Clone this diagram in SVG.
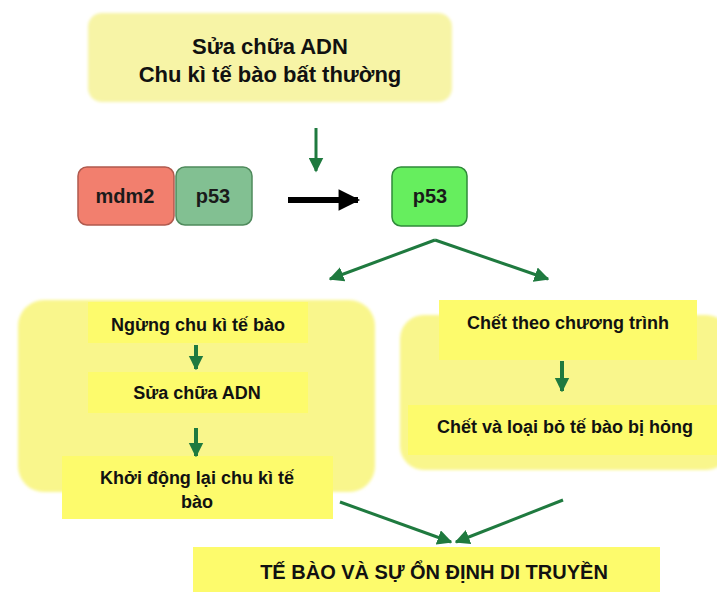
<svg xmlns="http://www.w3.org/2000/svg" width="717" height="592" viewBox="0 0 717 592">
  <defs>
    <filter id="soft" x="-5%" y="-5%" width="110%" height="110%">
      <feGaussianBlur stdDeviation="1.6"/>
    </filter>
    <marker id="headGreen" viewBox="0 0 10 10" refX="9" refY="5" markerWidth="5" markerHeight="5" orient="auto" markerUnits="strokeWidth">
      <path d="M0,0 L10,5 L0,10 Z" fill="#1f7a3f"/>
    </marker>
    <marker id="headWide" viewBox="0 0 10 10" refX="9" refY="5" markerWidth="3.6" markerHeight="4.4" orient="auto" markerUnits="strokeWidth">
      <path d="M0,0 L10,5 L0,10 Z" fill="#1f7a3f"/>
    </marker>
    <marker id="headBlack" viewBox="0 0 10 10" refX="9" refY="5" markerWidth="4" markerHeight="3.6" orient="auto" markerUnits="strokeWidth">
      <path d="M0,0 L10,5 L0,10 Z" fill="#000"/>
    </marker>
  </defs>
  <style>
    .pale { fill: #f9f68c; filter: url(#soft); }
    .paleTop { fill: #f7f4a6; filter: url(#soft); }
    .band { fill: #fdfb6c; }
    .txt { font-family: "Liberation Sans", Arial, sans-serif; font-weight: bold; fill: #111; text-anchor: middle; }
    .prot { font-family: "Liberation Sans", Arial, sans-serif; font-weight: bold; fill: #1a1a1a; text-anchor: middle; font-size: 20px; }
    .g { stroke: #1f7a3f; stroke-width: 3; fill: none; marker-end: url(#headGreen); }
    .gthick { stroke: #1f7a3f; stroke-width: 4; fill: none; marker-end: url(#headWide); }
  </style>

  <rect width="717" height="592" fill="#ffffff"/>

  <!-- trigger box -->
  <g id="trigger">
    <rect class="paleTop" x="88" y="13" width="364" height="89" rx="14"/>
    <text class="txt" x="270" y="54" font-size="22">Sửa chữa ADN</text>
    <text class="txt" x="270" y="82" font-size="22">Chu kì tế bào bất thường</text>
  </g>

  <!-- mdm2-p53 complex -->
  <g id="complex">
    <rect x="78" y="167" width="96" height="58" rx="9" fill="#f27f6e" stroke="#b05a4e" stroke-width="1.5"/>
    <rect x="176" y="167" width="76" height="58" rx="9" fill="#82c092" stroke="#4f8a5c" stroke-width="1.5"/>
    <text class="prot" x="125" y="203">mdm2</text>
    <text class="prot" x="213" y="203">p53</text>
  </g>

  <!-- free p53 -->
  <g id="p53free">
    <rect x="392" y="167" width="75" height="59" rx="9" fill="#66ee5e" stroke="#2f8a3a" stroke-width="1.5"/>
    <text class="prot" x="430" y="203">p53</text>
  </g>

  <!-- left branch: cell-cycle arrest and repair -->
  <g id="repairPath">
    <rect class="pale" x="18" y="300" width="357" height="192" rx="26"/>
    <rect class="band" x="88" y="302" width="220" height="41"/>
    <text class="txt" x="198" y="331" font-size="18">Ngừng chu kì tế bào</text>
    <rect class="band" x="88" y="372" width="220" height="41"/>
    <text class="txt" x="197" y="399" font-size="18">Sửa chữa ADN</text>
    <rect class="band" x="62" y="456" width="271" height="63"/>
    <text class="txt" x="197" y="484" font-size="18">Khởi động lại chu kì tế</text>
    <text class="txt" x="197" y="508" font-size="18">bào</text>
  </g>

  <!-- right branch: programmed cell death -->
  <g id="apoptosisPath">
    <rect class="pale" x="400" y="315" width="330" height="155" rx="24"/>
    <rect class="band" x="439" y="300" width="258" height="60"/>
    <text class="txt" x="568" y="329" font-size="18">Chết theo chương trình</text>
    <rect class="band" x="408" y="405" width="320" height="50"/>
    <text class="txt" x="565" y="433" font-size="18">Chết và loại bỏ tế bào bị hỏng</text>
  </g>

  <!-- outcome -->
  <g id="outcome">
    <rect class="band" x="193" y="547" width="467" height="45"/>
    <text class="txt" x="434" y="579" font-size="20">TẾ BÀO VÀ SỰ ỔN ĐỊNH DI TRUYỀN</text>
  </g>

  <!-- connectors -->
  <g id="connectors">
    <line class="g" x1="316" y1="128" x2="316" y2="171"/>
    <line x1="288" y1="200" x2="358" y2="200" stroke="#000" stroke-width="6" marker-end="url(#headBlack)"/>
    <line class="g" x1="435" y1="240" x2="330" y2="279"/>
    <line class="g" x1="435" y1="240" x2="548" y2="279"/>
    <line class="gthick" x1="196" y1="345" x2="196" y2="369"/>
    <line class="gthick" x1="196" y1="428" x2="196" y2="456"/>
    <line class="gthick" x1="562" y1="361" x2="562" y2="391"/>
    <line class="g" x1="340" y1="502" x2="451" y2="542"/>
    <line class="g" x1="563" y1="500" x2="456" y2="542"/>
  </g>
</svg>
